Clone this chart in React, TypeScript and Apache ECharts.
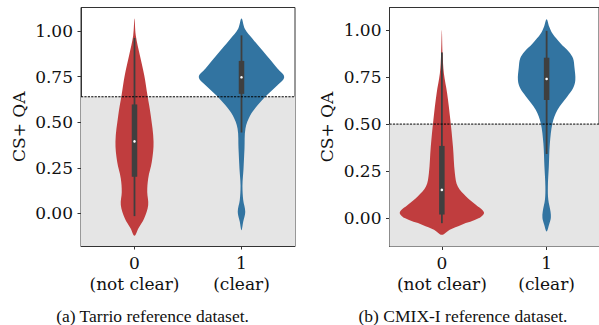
import React, { useEffect, useRef } from "react";
import * as echarts from "echarts";

// ---- data ----
const CATEGORY_LABELS = ["0\n(not clear)", "1\n(clear)"];
const Y_TICKS = [0, 0.25, 0.5, 0.75, 1.0];
const CAPTIONS = ["(a) Tarrio reference dataset.", "(b) CMIX-I reference dataset."];
const THRESHOLDS = [0.64, 0.5];
const Y_MIN = [-0.179, -0.151];
const Y_MAX = [1.13, 1.12];

// violin profiles: value positions and half-widths (in category units)
const TARRIO_NOT_CLEAR_Y = [1.069, 0.977, 0.868, 0.758, 0.648, 0.537, 0.393, 0.283, 0.192, 0.118, 0.046, -0.027, -0.082, -0.123];
const TARRIO_NOT_CLEAR_W = [0, 0.012, 0.05, 0.091, 0.121, 0.152, 0.178, 0.162, 0.128, 0.119, 0.128, 0.091, 0.037, 0];
const TARRIO_CLEAR_Y = [1.069, 1.014, 0.959, 0.905, 0.85, 0.795, 0.749, 0.703, 0.648, 0.593, 0.537, 0.466, 0.356, 0.247, 0.155, 0.073, 0.009, -0.046, -0.092];
const TARRIO_CLEAR_W = [0, 0.031, 0.103, 0.18, 0.259, 0.336, 0.399, 0.336, 0.236, 0.15, 0.081, 0.037, 0.028, 0.019, 0.009, 0.016, 0.035, 0.016, 0];
const CMIX_NOT_CLEAR_Y = [1.0, 0.876, 0.77, 0.664, 0.522, 0.38, 0.239, 0.168, 0.115, 0.071, 0.03, 0.0, -0.036, -0.062, -0.089];
const CMIX_NOT_CLEAR_W = [0, 0.007, 0.019, 0.05, 0.081, 0.106, 0.124, 0.152, 0.231, 0.324, 0.402, 0.355, 0.184, 0.075, 0];
const CMIX_CLEAR_Y = [1.058, 1.018, 0.982, 0.929, 0.885, 0.85, 0.8, 0.734, 0.69, 0.646, 0.575, 0.505, 0.398, 0.274, 0.168, 0.097, 0.035, 0.0, -0.035, -0.071];
const CMIX_CLEAR_W = [0, 0.025, 0.056, 0.134, 0.212, 0.252, 0.266, 0.274, 0.252, 0.196, 0.103, 0.056, 0.031, 0.021, 0.012, 0.016, 0.037, 0.04, 0.023, 0];

// box stats: [whisker low, q1, median, q3, whisker high]
const TARRIO_NOT_CLEAR_BOX = [-0.015, 0.201, 0.395, 0.598, 0.963];
const TARRIO_CLEAR_BOX = [0.444, 0.656, 0.747, 0.837, 0.977];
const CMIX_NOT_CLEAR_BOX = [-0.027, 0.019, 0.15, 0.384, 0.881];
const CMIX_CLEAR_BOX = [0.341, 0.628, 0.74, 0.853, 0.996];

const COLORS = ["#c03d3e", "#3274a1"];

const PANELS = [
  [
    { y: TARRIO_NOT_CLEAR_Y, w: TARRIO_NOT_CLEAR_W, box: TARRIO_NOT_CLEAR_BOX },
    { y: TARRIO_CLEAR_Y, w: TARRIO_CLEAR_W, box: TARRIO_CLEAR_BOX },
  ],
  [
    { y: CMIX_NOT_CLEAR_Y, w: CMIX_NOT_CLEAR_W, box: CMIX_NOT_CLEAR_BOX },
    { y: CMIX_CLEAR_Y, w: CMIX_CLEAR_W, box: CMIX_CLEAR_BOX },
  ],
];

const TEXT = "#111";
const SPINE = "#333";
const FONT = "DejaVu Serif";

export default function App() {
  const ref = useRef<HTMLDivElement>(null);
  useEffect(() => {
    if (!ref.current) return;
    const chart = echarts.init(ref.current, undefined, { renderer: "svg" });
    const grids = [
      { left: 81, top: 7.5, width: 214, height: 238.5 },
      { left: 389.5, top: 7.5, width: 215, height: 239 },
    ];
    const series: any[] = [];
    PANELS.forEach((panel, p) => {
      series.push({
        type: "custom",
        xAxisIndex: p,
        yAxisIndex: p,
        z: 1,
        silent: true,
        data: [[0.5, THRESHOLDS[p]]],
        renderItem: (params: any, api: any) => {
          const tl = api.coord([-0.5, THRESHOLDS[p]]);
          const br = api.coord([1.5, Y_MIN[p]]);
          return {
            type: "rect",
            shape: { x: tl[0], y: tl[1], width: br[0] - tl[0], height: br[1] - tl[1] },
            style: { fill: "#e5e5e5" },
          };
        },
      });
      series.push({
        type: "custom",
        xAxisIndex: p,
        yAxisIndex: p,
        z: 2,
        silent: true,
        data: [[0, 0.5], [1, 0.5]],
        renderItem: (params: any, api: any) => {
          const i = params.dataIndex;
          const v = panel[i];
          const n = v.y.length;
          const pts: number[][] = [];
          for (let k = 0; k < n; k++) pts.push(api.coord([i + v.w[k], v.y[k]]));
          for (let k = n - 2; k >= 1; k--) pts.push(api.coord([i - v.w[k], v.y[k]]));
          const b = v.box;
          const cx = api.coord([i, 0])[0];
          const wl = api.coord([i, b[0]])[1];
          const q1 = api.coord([i, b[1]])[1];
          const md = api.coord([i, b[2]])[1];
          const q3 = api.coord([i, b[3]])[1];
          const wh = api.coord([i, b[4]])[1];
          return {
            type: "group",
            children: [
              { type: "polygon", shape: { points: pts, smooth: 0.35 }, style: { fill: COLORS[i] } },
              { type: "line", shape: { x1: cx, y1: wh, x2: cx, y2: wl }, style: { stroke: "#3f3f3f", lineWidth: 1.8 } },
              { type: "rect", shape: { x: cx - 2.75, y: q3, width: 5.5, height: q1 - q3 }, style: { fill: "#3f3f3f" } },
              { type: "circle", shape: { cx, cy: md, r: 1.3 }, style: { fill: "#ffffff" } },
            ],
          };
        },
      });
      series.push({
        type: "custom",
        xAxisIndex: p,
        yAxisIndex: p,
        z: 5,
        silent: true,
        data: [[0.5, THRESHOLDS[p]]],
        renderItem: (params: any, api: any) => {
          const a = api.coord([-0.5, THRESHOLDS[p]]);
          const c = api.coord([1.5, THRESHOLDS[p]]);
          return {
            type: "line",
            shape: { x1: a[0], y1: a[1], x2: c[0], y2: c[1] },
            style: { stroke: "#000", lineWidth: 1, lineDash: [2.2, 1.2] },
          };
        },
      });
    });

    const option: any = {
      animation: false,
      grid: grids.map((g) => ({ ...g, show: true, backgroundColor: "transparent", borderColor: SPINE, borderWidth: 1 })),
      xAxis: [0, 1].map((p) => ({
        type: "value",
        gridIndex: p,
        min: -0.5,
        max: 1.5,
        splitLine: { show: false },
        axisLine: { show: true, onZero: false, lineStyle: { color: SPINE, width: 1 } },
        axisTick: { show: true, length: 3.5, customValues: [0, 1], lineStyle: { color: SPINE } },
        axisLabel: {
          customValues: [0, 1],
          formatter: (v: number) => CATEGORY_LABELS[Math.round(v)],
          fontFamily: FONT,
          fontSize: 17,
          lineHeight: 21,
          color: TEXT,
          margin: 6,
        },
      })),
      yAxis: [0, 1].map((p) => ({
        type: "value",
        gridIndex: p,
        min: Y_MIN[p],
        max: Y_MAX[p],
        name: "CS+ QA",
        nameLocation: "middle",
        nameGap: 54,
        nameTextStyle: { fontFamily: FONT, fontSize: 17, color: TEXT },
        splitLine: { show: false },
        axisLine: { show: true, onZero: false, lineStyle: { color: SPINE, width: 1 } },
        axisTick: { show: true, length: 3.5, customValues: Y_TICKS, lineStyle: { color: SPINE } },
        axisLabel: {
          customValues: Y_TICKS,
          formatter: (v: number) => v.toFixed(2),
          fontFamily: FONT,
          fontSize: 17,
          color: TEXT,
          margin: 8,
        },
      })),
      graphic: [
        {
          type: "text",
          x: 152.5,
          y: 315.5,
          style: { text: CAPTIONS[0], fontFamily: "Liberation Serif", fontSize: 17.5, fill: TEXT, textAlign: "center", textVerticalAlign: "middle" },
        },
        {
          type: "text",
          x: 463,
          y: 315.5,
          style: { text: CAPTIONS[1], fontFamily: "Liberation Serif", fontSize: 17.5, fill: TEXT, textAlign: "center", textVerticalAlign: "middle" },
        },
      ],
      series,
    };
    chart.setOption(option);
    return () => chart.dispose();
  }, []);
  return (
    <div style={{ position: "absolute", left: 0, top: 0 }}>
      <div ref={ref} style={{ width: 599, height: 325 }} />
    </div>
  );
}
